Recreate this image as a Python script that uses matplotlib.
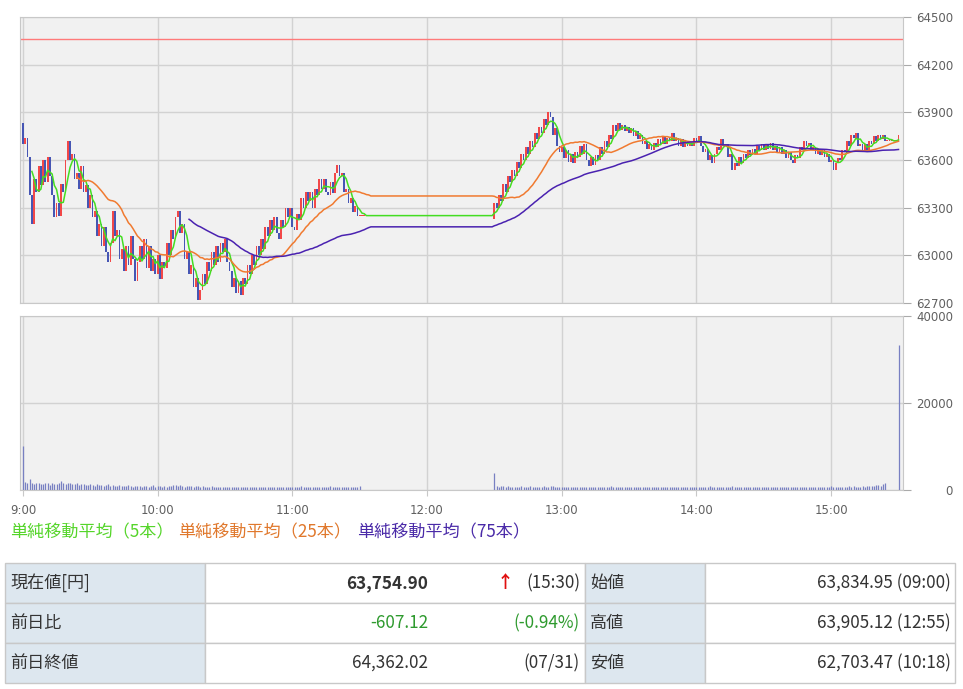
import numpy as np
import pandas as pd
import matplotlib
matplotlib.use('Agg')
import matplotlib.pyplot as plt
from matplotlib.patches import Rectangle

plt.rcParams['font.family'] = ['Noto Sans CJK JP', 'DejaVu Sans']

# --- data (1-minute bars, minutes after 9:00) ---
prev_close = 64362.02
am_open = 63834.95
pm_open = 63230.0
pm_start = 210  # 12:30

am_close = [
    63700, 63740, 63620, 63380, 63200, 63480, 63400, 63560, 63440, 63600,
    63460, 63620, 63500, 63380, 63240, 63330, 63250, 63450, 63400, 63600,
    63720, 63600, 63640, 63480, 63520, 63420, 63560, 63400, 63440, 63300,
    63380, 63240, 63280, 63120, 63200, 63060, 63180, 63020, 62960, 63080,
    63280, 63120, 63160, 62980, 63040, 62900, 63060, 62940, 63120, 62980,
    62840, 62960, 63060, 62980, 63100, 62920, 63060, 62900, 62980, 62880,
    63000, 62850, 62960, 62920, 63080, 63000, 63160, 63100, 63240, 63280,
    63140, 63200, 62980, 63020, 62880, 62940, 62800, 62860, 62720, 62780,
    62880, 62820, 62960, 62900, 63020, 62940, 63060, 62960, 63080, 63020,
    63100, 62960, 62900, 62800, 62860, 62760, 62840, 62750, 62860, 62820,
    62940, 62880, 63000, 62940, 63060, 63000, 63100, 63040, 63180, 63120,
    63220, 63160, 63240, 63140, 63100, 63220, 63180, 63300, 63240, 63300,
    63180, 63160, 63260, 63220, 63360, 63300, 63400, 63340, 63400, 63300,
    63420, 63380, 63480, 63420, 63480, 63400, 63380, 63460, 63390, 63520,
    63570, 63500, 63520, 63400, 63420, 63330, 63360, 63270, 63310, 63250,
    63250, 63250, 63250, 63250, 63250, 63250,
]
pm_close = [
    63330, 63300, 63380, 63340, 63450, 63400, 63500, 63460, 63540, 63500,
    63590, 63550, 63640, 63600, 63680, 63640, 63720, 63680, 63770, 63730,
    63810, 63770, 63860, 63820, 63900, 63870, 63760, 63800, 63690, 63650,
    63680, 63610, 63660, 63590, 63640, 63580, 63650, 63620, 63690, 63640,
    63700, 63600, 63560, 63620, 63570, 63630, 63600, 63680, 63640, 63720,
    63680, 63760, 63730, 63820, 63780, 63830, 63790, 63820, 63780, 63810,
    63770, 63800, 63750, 63780, 63730, 63760, 63700, 63720, 63670, 63700,
    63660, 63710, 63680, 63730, 63700, 63750, 63700, 63740, 63720, 63770,
    63720, 63740, 63690, 63730, 63680, 63720, 63690, 63710, 63690, 63740,
    63720, 63750, 63690, 63650, 63670, 63600, 63630, 63580, 63640, 63680,
    63660, 63730, 63690, 63700, 63620, 63640, 63540, 63580, 63560, 63620,
    63580, 63640, 63610, 63660, 63630, 63670, 63640, 63690, 63660, 63700,
    63660, 63700, 63670, 63710, 63660, 63690, 63650, 63680, 63640, 63660,
    63610, 63650, 63600, 63580, 63630, 63610, 63680, 63660, 63720, 63690,
    63710, 63660, 63680, 63640, 63670, 63630, 63660, 63620, 63640, 63590,
    63600, 63540, 63580, 63610, 63600, 63660, 63650, 63720, 63690, 63760,
    63740, 63770, 63690, 63700, 63650, 63700, 63660, 63720, 63700, 63750,
    63720, 63760, 63730, 63760, 63720, 63720, 63720, 63720, 63720, 63720,
    63754.90,
]
am_vol = [
    10100,
    1800, 1500, 2500, 1700, 1400, 1600, 1500, 1300, 1400, 1600,
    1500, 1200, 1600, 1400, 1300, 1700, 2000, 1500, 1400, 1600,
    1500, 1300, 1400, 1500, 1200, 1300, 1400, 1200, 1100, 1300,
    1200, 1000, 1300, 1100, 1200, 1000, 1100, 1300, 1000, 1200,
    1000, 900, 1100, 1000, 900, 1000, 1100, 900, 800, 1000,
    900, 1000, 800, 900, 1000, 800, 900, 1100, 800, 900,
    1000, 800, 900, 800, 1000, 900, 1200, 1100, 1000, 1200,
    900, 800, 900, 1000, 900, 800, 900, 1000, 800, 900,
    800, 700, 800, 900, 700, 800, 700, 800, 700, 800,
    700, 800, 700, 600, 700, 800, 700, 600, 700, 800,
    700, 600, 700, 600, 700, 800, 700, 600, 700, 600,
    700, 800, 700, 600, 700, 600, 700, 800, 600, 700,
    600, 700, 800, 900, 700, 600, 700, 800, 700, 600,
    700, 800, 700, 600, 700, 800, 900, 700, 800, 700,
    800, 700, 600, 700, 800, 700, 600, 800, 700, 900,
    0, 0, 0, 0, 0,
]
pm_vol = [
    3900, 900, 800, 900, 1000, 800, 900, 800, 700, 800,
    800, 700, 900, 800, 700, 800, 900, 800, 700, 800,
    700, 800, 900, 800, 700, 900, 1000, 800, 700, 800,
    700, 600, 700, 800, 600, 700, 600, 700, 800, 700,
    600, 700, 800, 700, 600, 700, 800, 600, 700, 600,
    700, 800, 900, 700, 600, 700, 600, 700, 600, 700,
    600, 700, 600, 700, 800, 600, 700, 600, 700, 600,
    700, 600, 700, 800, 600, 700, 600, 700, 800, 700,
    600, 700, 600, 700, 600, 700, 800, 600, 700, 600,
    700, 800, 700, 600, 700, 800, 900, 700, 600, 700,
    600, 700, 600, 700, 800, 700, 900, 700, 600, 700,
    600, 700, 600, 700, 600, 700, 600, 700, 600, 700,
    600, 700, 600, 700, 600, 700, 800, 700, 600, 700,
    700, 600, 700, 800, 700, 600, 700, 800, 700, 600,
    700, 600, 700, 600, 700, 800, 700, 600, 700, 800,
    900, 800, 700, 800, 700, 800, 700, 800, 900, 800,
    900, 800, 700, 800, 900, 800, 900, 1000, 900, 1000,
    1100, 1200, 1000, 1300, 1500, 0, 0, 0, 0, 0,
    33300,
]

ma_windows = [5, 25, 75]
ma_colors = ['#44dd22', '#f07a30', '#4a22b0']
legend_colors = ['#55d52a', '#e0782c', '#4a2aa8']
legend_labels = ['単純移動平均（5本）', '単純移動平均（25本）', '単純移動平均（75本）']
legend_x = [10, 178, 357]

hour_ticks = [0, 60, 120, 180, 240, 300, 360]
hour_labels = ['9:00', '10:00', '11:00', '12:00', '13:00', '14:00', '15:00']
price_ticks = [62700, 63000, 63300, 63600, 63900, 64200, 64500]
vol_ticks = [0, 20000, 40000]

table_rows = [
    ['現在値[円]', '63,754.90', '(15:30)', '始値', '63,834.95 (09:00)'],
    ['前日比', '-607.12', '(-0.94%)', '高値', '63,905.12 (12:55)'],
    ['前日終値', '64,362.02', '(07/31)', '安値', '62,703.47 (10:18)'],
]

# --- derived ---
am_t = np.arange(len(am_close))
pm_t = pm_start + np.arange(len(pm_close))
t_all = np.concatenate([am_t, pm_t])
closes = np.array(am_close + pm_close, dtype=float)
opens = np.array([am_open] + am_close[:-1] + [pm_open] + pm_close[:-1], dtype=float)
vols = np.array(am_vol + pm_vol, dtype=float)

W, H = 963, 689
fig = plt.figure(figsize=(W / 100, H / 100), dpi=100)
fig.patch.set_facecolor('white')


def px_axes(x0, y0, x1, y1):
    return fig.add_axes([x0 / W, 1 - y1 / H, (x1 - x0) / W, (y1 - y0) / H])


grid_c = '#d2d2d2'
bg_c = '#f1f1f1'
tick_c = '#606060'

ax = px_axes(20, 17, 903, 303)
axv = px_axes(20, 316, 903, 490)

for a in (ax, axv):
    a.set_facecolor(bg_c)
    for s in a.spines.values():
        s.set_color('#c8c8c8')
    a.set_xlim(-1.3, 392.0)
    a.set_xticks(hour_ticks)
    a.grid(True, color=grid_c, lw=1)
    a.set_axisbelow(True)
    a.yaxis.tick_right()
    a.tick_params(axis='y', colors='#aaaaaa', length=6, pad=30, labelsize=8.5,
                  labelcolor=tick_c, labelfontfamily='DejaVu Sans')
    a.tick_params(axis='x', colors='#c8c8c8', length=0, labelsize=8.5,
                  labelcolor=tick_c, labelfontfamily='DejaVu Sans')

# candles
up = closes >= opens
body_lo = np.minimum(opens, closes)
body_h = np.maximum(np.abs(closes - opens), 4)
ax.bar(t_all[up], body_h[up], bottom=body_lo[up], width=0.8, color='#f24848', lw=0)
ax.bar(t_all[~up], body_h[~up], bottom=body_lo[~up], width=0.8, color='#4656b4', lw=0)

# previous close
ax.axhline(prev_close, color='#ff7a7a', lw=1)

# moving averages, held flat over the lunch break
n_am = len(am_close)
s = pd.Series(closes)
for w, c in zip(ma_windows, ma_colors):
    ma = s.rolling(w).mean().to_numpy()
    tt = np.concatenate([am_t, [pm_start - 1], pm_t])
    mm = np.concatenate([ma[:n_am], [ma[n_am - 1]], ma[n_am:]])
    ax.plot(tt, mm, color=c, lw=1.1)

ax.set_ylim(62700, 64500)
ax.set_yticks(price_ticks)
ax.set_xticklabels([])

# volume
axv.vlines(t_all, 0, vols, color='#7880c2', lw=0.9)
axv.set_ylim(0, 40000)
axv.set_yticks(vol_ticks)
axv.set_xticklabels(hour_labels)
axv.tick_params(axis='x', length=4, pad=6)

for a in (ax, axv):
    for lbl in a.get_yticklabels():
        lbl.set_horizontalalignment('right')

# overlay for legend and table
ov = fig.add_axes([0, 0, 1, 1])
ov.set_xlim(0, W)
ov.set_ylim(H, 0)
ov.axis('off')

for lbl, c, x in zip(legend_labels, legend_colors, legend_x):
    ov.text(x, 532, lbl, color=c, fontsize=12.3, va='center', ha='left')

row_y = [563, 603, 643, 683]
col_x = [5, 205, 585, 705, 955]
label_bg = '#dde7ef'
for i in range(3):
    y0, y1 = row_y[i], row_y[i + 1]
    for j in range(4):
        fc = label_bg if j in (0, 2) else 'white'
        ov.add_patch(Rectangle((col_x[j], y0), col_x[j + 1] - col_x[j], y1 - y0,
                               facecolor=fc, edgecolor='#c8c8c8', lw=1))

txt_c = '#333333'
green = '#2e9a2e'
fs = 12.3
for i, row in enumerate(table_rows):
    yc = (row_y[i] + row_y[i + 1]) / 2
    vcolor = green if i == 1 else txt_c
    ov.text(10, yc, row[0], fontsize=fs, color=txt_c, va='center', ha='left')
    ov.text(428, yc, row[1], fontsize=fs, color=vcolor, va='center', ha='right',
            fontweight='bold' if i == 0 else 'normal')
    ov.text(580, yc, row[2], fontsize=fs, color=vcolor, va='center', ha='right')
    ov.text(590, yc, row[3], fontsize=fs, color=txt_c, va='center', ha='left')
    ov.text(951, yc, row[4], fontsize=fs, color=txt_c, va='center', ha='right')
ov.text(505, (row_y[0] + row_y[1]) / 2, '↑', fontsize=fs, color='#e01010',
        va='center', ha='center', fontweight='bold')

fig.savefig('out.png', dpi=100)
